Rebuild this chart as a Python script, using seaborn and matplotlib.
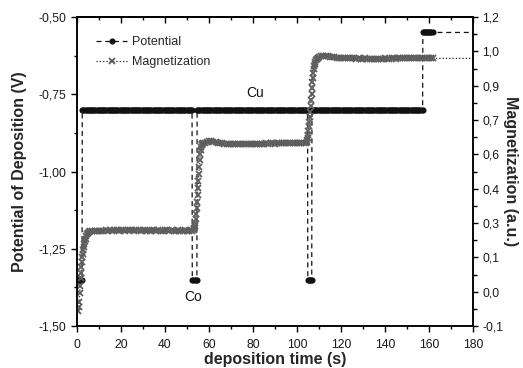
import numpy as np
import pandas as pd
import matplotlib
matplotlib.use("Agg")
import matplotlib.pyplot as plt
import matplotlib.ticker as mticker
import seaborn as sns

sns.set_style("ticks")
plt.rcParams["font.family"] = ["Liberation Sans", "DejaVu Sans"]
plt.rcParams["axes.unicode_minus"] = False

# Potential of deposition: constant steps (start s, end s, level V)
POT_START = [0.0, 2.4, 52.4, 54.6, 104.9, 106.8, 157.2]
POT_END = [2.3, 52.3, 54.5, 104.8, 106.7, 157.1, 161.6]
POT_LEVEL = [-1.35, -0.80, -1.35, -0.80, -1.35, -0.80, -0.55]
POT_SAMPLE = 0.5
POT_TAIL_T, POT_TAIL_V = 200.0, -0.55

# Magnetization (a.u.)
MAG_RISE1_T = [0.6, 0.8, 1.0, 1.2, 1.4, 1.6, 1.8, 2.0, 2.2, 2.4, 2.6, 2.8,
               3.0, 3.3, 3.6, 3.9, 4.2, 4.6, 5.0, 5.5]
MAG_RISE1_V = [-0.035, -0.02, 0.00, 0.04, 0.07, 0.10, 0.125, 0.15, 0.17, 0.19,
               0.205, 0.22, 0.232, 0.245, 0.258, 0.268, 0.277, 0.285, 0.291, 0.296]
MAG_PLAT1_T = list(range(6, 53))
MAG_PLAT1_V = [0.298, 0.299, 0.300, 0.300, 0.301, 0.300, 0.301, 0.302, 0.301, 0.302,
               0.301, 0.302, 0.302, 0.301, 0.302, 0.302, 0.301, 0.302, 0.303, 0.302,
               0.301, 0.302, 0.302, 0.301, 0.302, 0.302, 0.301, 0.301, 0.302, 0.302,
               0.301, 0.302, 0.301, 0.301, 0.302, 0.302, 0.301, 0.302, 0.301, 0.301,
               0.302, 0.301, 0.301, 0.302, 0.301, 0.301, 0.302]
MAG_RISE2_T = [52.5, 53.0, 53.2, 53.4, 53.6, 53.8, 54.0, 54.2, 54.4, 54.6, 54.8,
               55.0, 55.2, 55.4, 55.6, 55.8, 56.0, 56.2, 56.4, 56.6, 56.8, 57.0, 57.5]
MAG_RISE2_V = [0.301, 0.303, 0.307, 0.313, 0.322, 0.335, 0.352, 0.372, 0.395, 0.42, 0.45,
               0.48, 0.51, 0.54, 0.57, 0.60, 0.625, 0.642, 0.653, 0.66, 0.664, 0.667, 0.670]
MAG_PLAT2_T = list(range(58, 105))
MAG_PLAT2_V = [0.672, 0.676, 0.678, 0.677, 0.675, 0.673, 0.671, 0.669, 0.668, 0.667,
               0.666, 0.665, 0.665, 0.664, 0.665, 0.665, 0.664, 0.665, 0.666, 0.665,
               0.666, 0.666, 0.667, 0.666, 0.667, 0.667, 0.666, 0.667, 0.668, 0.667,
               0.668, 0.668, 0.667, 0.668, 0.669, 0.668, 0.669, 0.669, 0.668, 0.669,
               0.670, 0.669, 0.670, 0.670, 0.669, 0.670, 0.671]
MAG_RISE3_T = [104.4, 104.6, 104.8, 105.0, 105.2, 105.4, 105.6, 105.8, 106.0, 106.2,
               106.4, 106.6, 106.8, 107.0, 107.2, 107.4, 107.6, 107.8, 108.0, 108.3,
               108.6, 109.0, 109.5]
MAG_RISE3_V = [0.676, 0.682, 0.692, 0.705, 0.72, 0.74, 0.76, 0.78, 0.80, 0.825,
               0.85, 0.875, 0.90, 0.925, 0.945, 0.965, 0.98, 0.993, 1.003, 1.012,
               1.019, 1.024, 1.028]
MAG_PLAT3_T = list(range(110, 163))
MAG_PLAT3_V = [1.032, 1.036, 1.038, 1.037, 1.035, 1.033, 1.031, 1.030, 1.029, 1.028,
               1.028, 1.027, 1.027, 1.026, 1.027, 1.026, 1.026, 1.025, 1.026, 1.025,
               1.025, 1.026, 1.025, 1.025, 1.024, 1.025, 1.025, 1.024, 1.025, 1.025,
               1.026, 1.025, 1.025, 1.026, 1.026, 1.025, 1.026, 1.026, 1.027, 1.026,
               1.026, 1.027, 1.027, 1.026, 1.027, 1.027, 1.026, 1.027, 1.027, 1.026,
               1.027, 1.026, 1.026]
MAG_TAIL_T, MAG_TAIL_V = 200.0, 1.026

RIGHT_TICK_LABELS = ["-0,1", "0,0", "0,1", "0,3", "0,4", "0,6", "0,7", "0,9", "1,0", "1,2"]

# Build tables
pot_t, pot_v = [], []
for s, e, lv in zip(POT_START, POT_END, POT_LEVEL):
    n = int(round((e - s) / POT_SAMPLE)) + 1
    ts = np.linspace(s, e, n)
    pot_t.extend(ts)
    pot_v.extend([lv] * n)
pot_t.append(POT_TAIL_T)
pot_v.append(POT_TAIL_V)
pot = pd.DataFrame({"t": pot_t, "v": pot_v})

mag = pd.DataFrame({
    "t": MAG_RISE1_T + MAG_PLAT1_T + MAG_RISE2_T + MAG_PLAT2_T + MAG_RISE3_T + MAG_PLAT3_T + [MAG_TAIL_T],
    "m": MAG_RISE1_V + MAG_PLAT1_V + MAG_RISE2_V + MAG_PLAT2_V + MAG_RISE3_V + MAG_PLAT3_V + [MAG_TAIL_V],
})

fig = plt.figure(figsize=(5.23, 3.68), dpi=100)
ax = fig.add_axes([0.1472, 0.1141, 0.7572, 0.8397])
ax2 = ax.twinx()

sns.lineplot(data=pot, x="t", y="v", ax=ax, estimator=None, sort=False,
             color="#111111", linestyle=(0, (4, 3)), linewidth=0.9,
             marker="o", markersize=4.4, markeredgewidth=0, label="Potential")
sns.lineplot(data=mag, x="t", y="m", ax=ax2, estimator=None, sort=False,
             color="#222222", linestyle=":", linewidth=0.9,
             marker="x", markersize=5, markeredgewidth=1.3,
             markeredgecolor="#5e5e5e", label="Magnetization")

for a in (ax, ax2):
    if a.get_legend() is not None:
        a.get_legend().remove()

# Left / bottom axes
ax.set_xlim(0, 180)
ax.set_ylim(-1.5, -0.5)
ax.xaxis.set_major_locator(mticker.MultipleLocator(20))
ax.xaxis.set_minor_locator(mticker.MultipleLocator(10))
ax.yaxis.set_major_locator(mticker.MultipleLocator(0.25))
ax.yaxis.set_minor_locator(mticker.MultipleLocator(0.125))
ax.yaxis.set_major_formatter(mticker.FuncFormatter(lambda v, p: f"{v:.2f}".replace(".", ",")))
ax.tick_params(which="both", direction="out", color="black", width=1,
               labelsize=8.8, labelcolor="#1a1a1a")
ax.tick_params(which="major", length=4.5)
ax.tick_params(which="minor", length=2.5)
ax.tick_params(axis="x", pad=4.5)
ax.tick_params(axis="y", pad=3)

secax = ax.secondary_xaxis("top")
secax.xaxis.set_major_locator(mticker.MultipleLocator(20))
secax.xaxis.set_minor_locator(mticker.MultipleLocator(10))
secax.tick_params(which="both", direction="in", labeltop=False, color="black", width=1)
secax.tick_params(which="major", length=4)
secax.tick_params(which="minor", length=2.5)

# Right axis
ax2.set_ylim(-0.1, 1.2)
rticks = np.linspace(-0.1, 1.2, len(RIGHT_TICK_LABELS))
ax2.yaxis.set_major_locator(mticker.FixedLocator(rticks))
ax2.yaxis.set_major_formatter(mticker.FixedFormatter(RIGHT_TICK_LABELS))
ax2.yaxis.set_minor_locator(mticker.FixedLocator((rticks[:-1] + rticks[1:]) / 2))
ax2.tick_params(which="both", direction="out", color="black", width=1,
                labelsize=8.8, labelcolor="#1a1a1a", pad=3)
ax2.tick_params(which="major", length=3.5)
ax2.tick_params(which="minor", length=3)

for a in (ax, ax2, secax):
    for sp in a.spines.values():
        sp.set_color("black")
        sp.set_linewidth(1.1)

ax.set_xlabel("deposition time (s)", fontsize=11.5, fontweight="bold")
ax.xaxis.set_label_coords(0.5, -0.083)
ax.set_ylabel("Potential of Deposition (V)", fontsize=11.5, fontweight="bold")
ax.yaxis.set_label_coords(-0.125, 0.5)
ax2.set_ylabel("Magnetization (a.u.)", fontsize=11.5, fontweight="bold",
               rotation=270, va="bottom")
ax2.yaxis.set_label_coords(1.075, 0.5)

ax.text(81, -0.745, "Cu", ha="center", va="center", fontsize=10, color="#111111")
ax.text(53, -1.405, "Co", ha="center", va="center", fontsize=10, color="#111111")

h1, l1 = ax.get_legend_handles_labels()
h2, l2 = ax2.get_legend_handles_labels()
ax2.legend(h1 + h2, l1 + l2, loc="upper left", bbox_to_anchor=(0.048, 0.938),
           frameon=False, fontsize=9, handlelength=2.5, handletextpad=0.4,
           labelspacing=0.65, borderpad=0, borderaxespad=0)

fig.savefig("out.png", dpi=100)
